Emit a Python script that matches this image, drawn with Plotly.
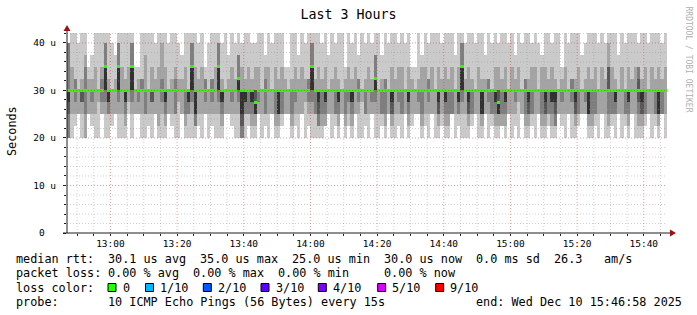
import plotly.graph_objects as go
from datetime import datetime, timedelta

# ---------------- data ----------------
START = datetime(2025, 12, 10, 12, 46, 58)
END = datetime(2025, 12, 10, 15, 46, 58)
STEP_SEC = 60

# ping level codes -> microseconds
LEVELS_US = [20, 22.5, 25, 27.5, 30, 32.5, 35, 37.5, 40, 45]

# each string = 10 sorted ping results for one step (codes into LEVELS_US)
pings_1247 = ["0002344888", "0244444469", "1234444559", "2244444448", "0233444459",
              "0024444679", "2244444456", "1234444457", "0244444469", "0344444449",
              "2234444569", "0234466889", "0223344459", "1244444448", "2244444457",
              "0234466889", "0244444469", "0123344459", "2344444469", "0234466889"]
pings_1307 = ["2244444446", "2234444456", "0244444559", "0224444479", "1244444449",
              "0233444469", "2244444458", "0144444469", "0234444589", "0123344469",
              "2244444448", "1244444459", "0224444569", "0344444458", "2244444457",
              "0124444469", "0223344449", "0234466889", "0112244469", "1244444458"]
pings_1327 = ["0244444469", "2234444556", "0244444448", "1234444559", "0244444469",
              "0234466889", "0123344458", "2244444449", "2244444457", "1234444469",
              "0244444458", "0234455779", "0001244468", "0223344459", "1224444469",
              "0123344458", "0122234468", "2234444469", "0244444449", "1224444567"]
pings_1347 = ["0244444469", "2244444448", "0124444469", "0122244459", "1224444469",
              "2244444456", "2244444446", "0124444459", "1234444469", "0244444457",
              "2244444469", "0344444458", "1234444559", "0234466889", "0224444459",
              "0112344469", "0124444458", "1123344469", "2244444447", "0244444459"]
pings_1407 = ["1224444468", "0123344459", "2244444449", "0124444456", "1234444469",
              "0123344458", "2244444469", "0234444557", "0344444449", "1224444458",
              "0244444469", "2234444458", "0234455779", "0244444449", "1224444457",
              "0124444559", "2244444448", "0122344469", "0244444459", "1234444468"]
pings_1427 = ["0224444469", "2244444448", "0123344469", "1244444456", "2244444446",
              "2234444459", "0124444467", "1244444469", "0234444558", "2244444469",
              "0244444449", "0122344469", "1244444458", "0123344469", "0124444459",
              "2224444469", "0244444447", "1223344469", "0234466889", "0244444458"]
pings_1447 = ["0122344469", "1224444459", "2244444448", "0244444469", "0122244459",
              "2244444457", "0234444559", "1224444448", "0123344469", "0122234468",
              "1124444459", "0123344469", "2244444448", "0244444469", "1234444457",
              "0344444469", "2244444448", "0124444559", "0122344459", "1224444468"]
pings_1507 = ["0244444469", "2244444448", "0124444467", "0122344469", "1224444459",
              "0123344468", "0112344459", "2244444449", "1234444456", "0244444469",
              "2244444448", "0234444559", "0122344459", "1224444469", "2244444447",
              "2234444458", "0122244469", "0124444459", "1224444469", "0244444448"]
pings_1527 = ["2244444469", "0244444458", "0124446689", "1224444469", "0223344459",
              "2244444447", "0244444469", "1224444448", "0123344469", "2244444459",
              "0244444469", "0123445668", "0122344459", "1224444469", "2244444448",
              "0244444469", "1224444459", "0122244469", "2224444458", "0244444469"]

band_colors = ["#cacaca", "#a4a4a4", "#7e7e7e", "#585858", "#323232"]
median_color = "#26ff00"

y_tick_vals = [0, 10, 20, 30, 40]
y_tick_text = ["0\u00a0\u00a0", "10 u", "20 u", "30 u", "40 u"]

loss_labels = ["0", "1/10", "2/10", "3/10", "4/10", "5/10", "9/10"]
loss_colors = ["#26ff00", "#00b8ff", "#0059ff", "#5e00ff", "#7e00ff", "#dd00ff", "#ff0000"]

legend_row1 = [(0, "median rtt:"), (13, "30.1 us avg"), (26, "35.0 us max"), (39, "25.0 us min"),
               (52, "30.0 us now"), (65, "0.0 ms sd"), (76, "26.3"), (83, "am/s")]
legend_row2 = [(0, "packet loss:"), (13, "0.00 % avg"), (25, "0.00 % max"), (37, "0.00 % min"),
               (52, "0.00 % now")]
legend_row4 = [(0, "probe:"), (13, "10 ICMP Echo Pings (56 Bytes) every 15s"),
               (65, "end: Wed Dec 10 15:46:58 2025")]

# ---------------- build ----------------
all_cols = (pings_1247 + pings_1307 + pings_1327 + pings_1347 + pings_1407 +
            pings_1427 + pings_1447 + pings_1507 + pings_1527)
pings = [[LEVELS_US[int(c)] for c in s] for s in all_cols]
times = [START + timedelta(seconds=STEP_SEC * (i + 0.5)) for i in range(len(pings))]
width_ms = STEP_SEC * 1000

fig = go.Figure()
for k in range(5):
    fig.add_trace(go.Bar(
        x=times,
        base=[p[k] for p in pings],
        y=[p[9 - k] - p[k] for p in pings],
        width=width_ms,
        marker=dict(color=band_colors[k], line=dict(width=0)),
        hoverinfo="skip", showlegend=False))

median = [p[5] for p in pings]
MED_T = 0.6
fig.add_trace(go.Bar(
    x=times, base=[m - MED_T / 2 for m in median], y=[MED_T] * len(median),
    width=width_ms, marker=dict(color=median_color, line=dict(width=0)),
    hoverinfo="skip", showlegend=False))

# ---------------- layout helpers ----------------
L, R, T, B = 67, 30, 33, 82
W, H = 697, 315
PW, PH = W - L - R, H - T - B


def px(x):
    return (x - L) / PW


def py(y):
    return (T + PH - y) / PH


FONT = "DejaVu Sans Mono"
CHAR_W = 7.08
TXT_X0 = 16
shapes = []

# grid above data (rrdtool style)
minor_col = "rgba(150,150,150,0.45)"
major_col = "rgba(210,60,60,0.5)"
t = datetime(2025, 12, 10, 12, 50)
while t < END:
    major = (t.minute % 20 == 0)
    shapes.append(dict(type="line", xref="x", yref="paper", x0=t, x1=t, y0=0, y1=1,
                       line=dict(color=major_col if major else minor_col, width=1, dash="1px,2px"),
                       layer="above"))
    t += timedelta(minutes=5)
for v in range(2, 43, 2):
    major = (v % 10 == 0)
    shapes.append(dict(type="line", xref="paper", yref="y", x0=0, x1=1, y0=v, y1=v,
                       line=dict(color=major_col if major else minor_col, width=1, dash="1px,2px"),
                       layer="above"))

# axes lines and arrows
axis_col = "#1f1f1f"
arrow_col = "#a01010"
shapes.append(dict(type="line", xref="paper", yref="paper", x0=px(63), x1=px(671),
                   y0=0, y1=0, line=dict(color=axis_col, width=1), layer="above"))
shapes.append(dict(type="line", xref="paper", yref="paper", x0=0, x1=0,
                   y0=0, y1=py(30), line=dict(color=axis_col, width=1), layer="above"))
shapes.append(dict(type="path", xref="paper", yref="paper",
                   path=f"M {px(67)},{py(25)} L {px(63.5)},{py(31)} L {px(70.5)},{py(31)} Z",
                   fillcolor=arrow_col, line=dict(width=0), layer="above"))
shapes.append(dict(type="path", xref="paper", yref="paper",
                   path=f"M {px(676)},{py(233)} L {px(670)},{py(229.5)} L {px(670)},{py(236.5)} Z",
                   fillcolor=arrow_col, line=dict(width=0), layer="above"))

annotations = []


def text(x, y, s, size=11.8, color="black", angle=0, xanchor="left"):
    annotations.append(dict(xref="paper", yref="paper", x=px(x), y=py(y), text=s,
                            showarrow=False, xanchor=xanchor, yanchor="middle",
                            textangle=angle, borderpad=0, borderwidth=0,
                            font=dict(family=FONT, size=size, color=color)))


def col(idx):
    return TXT_X0 + idx * CHAR_W


# legend rows
row1, row2, row3, row4 = 259, 273, 287.5, 301.5
for idx, s in legend_row1:
    text(col(idx), row1, s)
for idx, s in legend_row2:
    text(col(idx), row2, s)

text(col(0), row3, "loss color:")
sq_x = [108, 145.5, 203.3, 261, 318.3, 377.7, 435.7]
for sx, lab, c in zip(sq_x, loss_labels, loss_colors):
    shapes.append(dict(type="rect", xref="paper", yref="paper",
                       x0=px(sx), x1=px(sx + 8), y0=py(row3 + 4), y1=py(row3 - 4),
                       fillcolor=c, line=dict(color="black", width=1), layer="above"))
    text(sx + 14.5, row3, lab)

for idx, s in legend_row4:
    text(col(idx), row4, s)

# y axis title and watermark
text(12, 131, "Seconds", angle=-90, xanchor="center")
text(688.5, 59, "RRDTOOL / TOBI OETIKER", size=8, color="#b0b0b0", angle=90, xanchor="center")

fig.update_layout(
    width=W, height=H, autosize=False,
    margin=dict(l=L, r=R, t=T, b=B, pad=0),
    paper_bgcolor="white", plot_bgcolor="white",
    barmode="overlay", bargap=0,
    title=dict(text="Last 3 Hours", x=0.5, xref="container", xanchor="center",
               y=1 - 14 / H, yref="container", yanchor="middle",
               font=dict(family=FONT, size=13.3, color="black")),
    xaxis=dict(type="date", range=[START, END], showgrid=False, zeroline=False,
               showline=False, tickformat="%H:%M", dtick=20 * 60 * 1000,
               tick0=datetime(2025, 12, 10, 13, 0), ticks="outside", ticklen=2,
               tickcolor=axis_col, ticklabelstandoff=0,
               minor=dict(dtick=5 * 60 * 1000, tick0=datetime(2025, 12, 10, 13, 0),
                          ticks="outside", ticklen=2, tickcolor=axis_col, showgrid=False),
               tickfont=dict(family=FONT, size=9.5, color="black")),
    yaxis=dict(range=[0, 42.1], showgrid=False, zeroline=False, showline=False,
               tickvals=y_tick_vals, ticktext=y_tick_text, ticks="outside", ticklen=3,
               tickcolor=axis_col, ticklabelstandoff=5,
               minor=dict(dtick=2, ticks="outside", ticklen=2, tickcolor=axis_col, showgrid=False),
               tickfont=dict(family=FONT, size=9.5, color="black")),
    shapes=shapes, annotations=annotations,
)

fig.write_html("out.html")
